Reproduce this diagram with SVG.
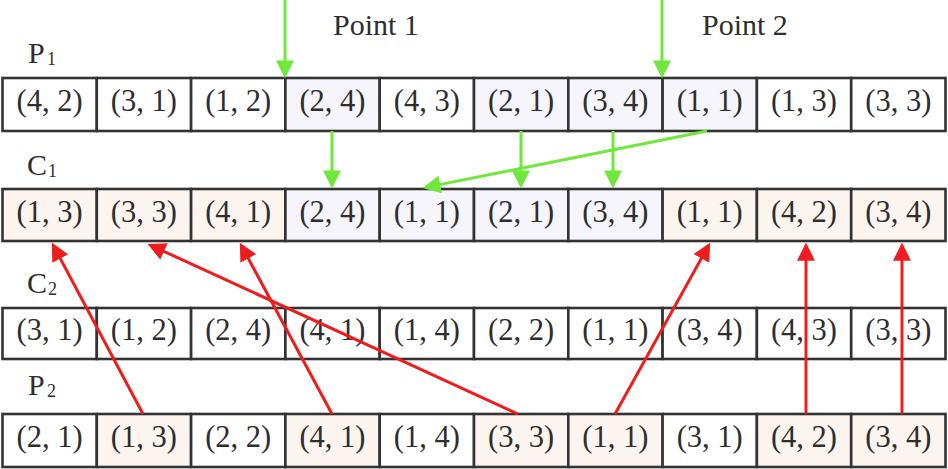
<svg xmlns="http://www.w3.org/2000/svg" width="948" height="469" viewBox="0 0 948 469">
<style>
.c{stroke:#333;stroke-width:2.6}
.w{fill:#ffffff}
.l{fill:#f5f5fb}
.p{fill:#fcf4ef}
.t{font-family:"Liberation Serif","Times New Roman",serif;font-size:30.5px;fill:#2e2e2e;text-anchor:middle}
.lab{font-family:"Liberation Serif","Times New Roman",serif;font-size:30px;fill:#2e2e2e}
.sub{font-size:18px}
.g{stroke:#6ee83a;stroke-width:3;fill:none}
.r{stroke:#ee1c1c;stroke-width:3;fill:none}
</style>
<defs>
<marker id="ag" markerUnits="userSpaceOnUse" markerWidth="18" markerHeight="18" refX="13" refY="8" orient="auto" viewBox="0 0 16 16"><path d="M0,0 L16,8 L0,16 Z" fill="#6ee83a"/></marker>
<marker id="ar" markerUnits="userSpaceOnUse" markerWidth="18" markerHeight="18" refX="13" refY="8" orient="auto" viewBox="0 0 16 16"><path d="M0,0 L16,8 L0,16 Z" fill="#ee1c1c"/></marker>
</defs>
<rect width="948" height="469" fill="#ffffff"/>

<text class="lab" x="333" y="35">Point 1</text>
<text class="lab" x="702" y="35">Point 2</text>
<text class="lab" x="28" y="63">P<tspan class="sub" x="47" y="65">1</tspan></text>
<text class="lab" x="27" y="175">C<tspan class="sub" x="48" y="177">1</tspan></text>
<text class="lab" x="27" y="293">C<tspan class="sub" x="48" y="295">2</tspan></text>
<text class="lab" x="28" y="395">P<tspan class="sub" x="47" y="397">2</tspan></text>

<!-- Row P1 -->
<g id="P1">
<g id="p1-0"><rect class="c w" x="2.5" y="78" width="94.3" height="53"/><text class="t" x="49.6" y="111">(4, 2)</text></g>
<g id="p1-1"><rect class="c w" x="96.8" y="78" width="94.3" height="53"/><text class="t" x="143.9" y="111">(3, 1)</text></g>
<g id="p1-2"><rect class="c w" x="191.1" y="78" width="94.3" height="53"/><text class="t" x="238.2" y="111">(1, 2)</text></g>
<g id="p1-3"><rect class="c l" x="285.4" y="78" width="94.3" height="53"/><text class="t" x="332.5" y="111">(2, 4)</text></g>
<g id="p1-4"><rect class="c w" x="379.7" y="78" width="94.3" height="53"/><text class="t" x="426.8" y="111">(4, 3)</text></g>
<g id="p1-5"><rect class="c l" x="474" y="78" width="94.3" height="53"/><text class="t" x="521.1" y="111">(2, 1)</text></g>
<g id="p1-6"><rect class="c l" x="568.3" y="78" width="94.3" height="53"/><text class="t" x="615.4" y="111">(3, 4)</text></g>
<g id="p1-7"><rect class="c l" x="662.6" y="78" width="94.3" height="53"/><text class="t" x="709.7" y="111">(1, 1)</text></g>
<g id="p1-8"><rect class="c w" x="756.9" y="78" width="94.3" height="53"/><text class="t" x="804" y="111">(1, 3)</text></g>
<g id="p1-9"><rect class="c w" x="851.2" y="78" width="94.3" height="53"/><text class="t" x="898.3" y="111">(3, 3)</text></g>
</g>

<!-- Row C1 -->
<g id="C1">
<g id="c1-0"><rect class="c p" x="2.5" y="189" width="94.3" height="52"/><text class="t" x="49.6" y="222">(1, 3)</text></g>
<g id="c1-1"><rect class="c p" x="96.8" y="189" width="94.3" height="52"/><text class="t" x="143.9" y="222">(3, 3)</text></g>
<g id="c1-2"><rect class="c p" x="191.1" y="189" width="94.3" height="52"/><text class="t" x="238.2" y="222">(4, 1)</text></g>
<g id="c1-3"><rect class="c l" x="285.4" y="189" width="94.3" height="52"/><text class="t" x="332.5" y="222">(2, 4)</text></g>
<g id="c1-4"><rect class="c l" x="379.7" y="189" width="94.3" height="52"/><text class="t" x="426.8" y="222">(1, 1)</text></g>
<g id="c1-5"><rect class="c l" x="474" y="189" width="94.3" height="52"/><text class="t" x="521.1" y="222">(2, 1)</text></g>
<g id="c1-6"><rect class="c l" x="568.3" y="189" width="94.3" height="52"/><text class="t" x="615.4" y="222">(3, 4)</text></g>
<g id="c1-7"><rect class="c p" x="662.6" y="189" width="94.3" height="52"/><text class="t" x="709.7" y="222">(1, 1)</text></g>
<g id="c1-8"><rect class="c p" x="756.9" y="189" width="94.3" height="52"/><text class="t" x="804" y="222">(4, 2)</text></g>
<g id="c1-9"><rect class="c p" x="851.2" y="189" width="94.3" height="52"/><text class="t" x="898.3" y="222">(3, 4)</text></g>
</g>

<!-- Row C2 -->
<g id="C2">
<g id="c2-0"><rect class="c w" x="2.5" y="308" width="94.3" height="51"/><text class="t" x="49.6" y="340">(3, 1)</text></g>
<g id="c2-1"><rect class="c w" x="96.8" y="308" width="94.3" height="51"/><text class="t" x="143.9" y="340">(1, 2)</text></g>
<g id="c2-2"><rect class="c w" x="191.1" y="308" width="94.3" height="51"/><text class="t" x="238.2" y="340">(2, 4)</text></g>
<g id="c2-3"><rect class="c w" x="285.4" y="308" width="94.3" height="51"/><text class="t" x="332.5" y="340">(4, 1)</text></g>
<g id="c2-4"><rect class="c w" x="379.7" y="308" width="94.3" height="51"/><text class="t" x="426.8" y="340">(1, 4)</text></g>
<g id="c2-5"><rect class="c w" x="474" y="308" width="94.3" height="51"/><text class="t" x="521.1" y="340">(2, 2)</text></g>
<g id="c2-6"><rect class="c w" x="568.3" y="308" width="94.3" height="51"/><text class="t" x="615.4" y="340">(1, 1)</text></g>
<g id="c2-7"><rect class="c w" x="662.6" y="308" width="94.3" height="51"/><text class="t" x="709.7" y="340">(3, 4)</text></g>
<g id="c2-8"><rect class="c w" x="756.9" y="308" width="94.3" height="51"/><text class="t" x="804" y="340">(4, 3)</text></g>
<g id="c2-9"><rect class="c w" x="851.2" y="308" width="94.3" height="51"/><text class="t" x="898.3" y="340">(3, 3)</text></g>
</g>

<!-- Row P2 -->
<g id="P2">
<g id="p2-0"><rect class="c w" x="2.5" y="414" width="94.3" height="53"/><text class="t" x="49.6" y="447">(2, 1)</text></g>
<g id="p2-1"><rect class="c p" x="96.8" y="414" width="94.3" height="53"/><text class="t" x="143.9" y="447">(1, 3)</text></g>
<g id="p2-2"><rect class="c w" x="191.1" y="414" width="94.3" height="53"/><text class="t" x="238.2" y="447">(2, 2)</text></g>
<g id="p2-3"><rect class="c p" x="285.4" y="414" width="94.3" height="53"/><text class="t" x="332.5" y="447">(4, 1)</text></g>
<g id="p2-4"><rect class="c w" x="379.7" y="414" width="94.3" height="53"/><text class="t" x="426.8" y="447">(1, 4)</text></g>
<g id="p2-5"><rect class="c p" x="474" y="414" width="94.3" height="53"/><text class="t" x="521.1" y="447">(3, 3)</text></g>
<g id="p2-6"><rect class="c p" x="568.3" y="414" width="94.3" height="53"/><text class="t" x="615.4" y="447">(1, 1)</text></g>
<g id="p2-7"><rect class="c w" x="662.6" y="414" width="94.3" height="53"/><text class="t" x="709.7" y="447">(3, 1)</text></g>
<g id="p2-8"><rect class="c p" x="756.9" y="414" width="94.3" height="53"/><text class="t" x="804" y="447">(4, 2)</text></g>
<g id="p2-9"><rect class="c p" x="851.2" y="414" width="94.3" height="53"/><text class="t" x="898.3" y="447">(3, 4)</text></g>
</g>

<g id="connectors">
<line class="g" x1="285" y1="0" x2="285" y2="75" marker-end="url(#ag)"/>
<line class="g" x1="662" y1="0" x2="662" y2="75" marker-end="url(#ag)"/>
<line class="g" x1="332" y1="131" x2="332" y2="185" marker-end="url(#ag)"/>
<line class="g" x1="521" y1="131" x2="521" y2="185" marker-end="url(#ag)"/>
<line class="g" x1="613" y1="131" x2="613" y2="185" marker-end="url(#ag)"/>
<line class="g" x1="707" y1="131" x2="425.9" y2="187.4" marker-end="url(#ag)"/>
<line class="r" x1="143" y1="414" x2="53.4" y2="245.6" marker-end="url(#ar)"/>
<line class="r" x1="332" y1="414" x2="241.4" y2="245.6" marker-end="url(#ar)"/>
<line class="r" x1="518" y1="414" x2="150.7" y2="245.3" marker-end="url(#ar)"/>
<line class="r" x1="615" y1="414" x2="708.5" y2="245.6" marker-end="url(#ar)"/>
<line class="r" x1="806" y1="414" x2="806" y2="246" marker-end="url(#ar)"/>
<line class="r" x1="902" y1="414" x2="902" y2="246" marker-end="url(#ar)"/>
</g>
</svg>
